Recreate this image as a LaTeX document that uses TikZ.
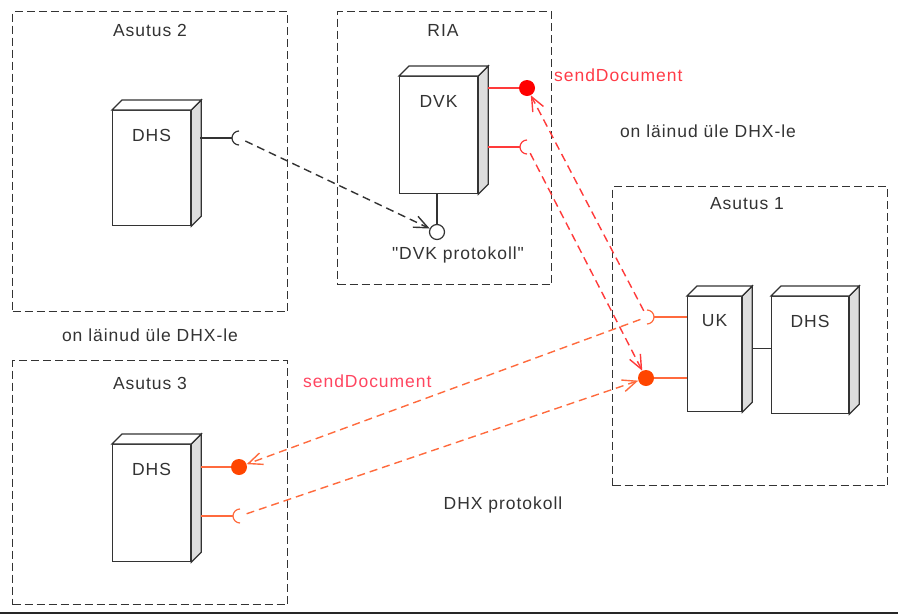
\documentclass[tikz,border=0pt]{standalone}
\usepackage{fontspec}
\setmainfont{Liberation Sans}[LetterSpace=5.5, Ligatures=TeXOff]
\usetikzlibrary{arrows.meta}
\definecolor{ink}{HTML}{333333}
\definecolor{boxline}{HTML}{333333}
\definecolor{sidegray}{HTML}{DDDDDD}
\definecolor{redline}{HTML}{FF3A3A}
\definecolor{redball}{HTML}{FF0000}
\definecolor{redtext}{HTML}{FF3B47}
\definecolor{orline}{HTML}{FF6A3D}
\definecolor{orball}{HTML}{FF4500}
\definecolor{ortext}{HTML}{FF4560}
\newcommand\devicebox[6]{%
  \node[face, minimum width=#4, minimum height=#5, anchor=north west] (#1) at (#2,-#3) {};
  \filldraw[face, fill=sidegray] (#1.north east) -- ++(10,10) -- ([shift={(10,10)}]#1.south east) -- (#1.south east) -- cycle;
  \filldraw[face] (#1.north west) -- ++(10,10) -- ([shift={(10,10)}]#1.north east) -- (#1.north east) -- cycle;
  \node[lbl] (#1-t) at ([yshift=-25pt]#1.north) {#6};
}
\begin{document}
\begin{tikzpicture}[x=1pt,y=1pt,
  lbl/.style={font=\fontsize{17.5}{21}\selectfont, text=ink, inner sep=0pt},
  group/.style={draw=boxline, line width=1.4pt, dash pattern=on 8pt off 4pt, inner sep=0pt},
  face/.style={draw=ink, fill=white, line width=1.2pt, inner sep=0pt},
  wire/.style={draw=ink, line width=1.2pt},
  redwire/.style={draw=redline, line width=1.2pt},
  orwire/.style={draw=orline, line width=1.2pt},
  ball/.style={circle, inner sep=0pt, minimum size=16pt},
  dep/.style={line width=1.4pt, dash pattern=on 8pt off 5pt, -{Straight Barb[length=14pt,width=12pt]}},
]
\useasboundingbox (0,0) rectangle (898,-614);
\fill[black!85] (0,-611.5) rectangle (898,-614);

% groups
\node[group, minimum width=275, minimum height=300, anchor=north west] (a2) at (12,-11) {};
\node[group, minimum width=214, minimum height=273, anchor=north west] (ria) at (337,-11) {};
\node[group, minimum width=275, minimum height=299, anchor=north west] (a1) at (612,-186) {};
\node[group, minimum width=275, minimum height=244, anchor=north west] (a3) at (12,-360) {};

\node[lbl] (a2t) at (150,-30) {Asutus 2};
\node[lbl] (riat) at (443,-30) {RIA};
\node[lbl] (a1t) at (747,-204) {Asutus 1};
\node[lbl] (a3t) at (150,-383) {Asutus 3};
\node[lbl] (note1) at (708,-131) {on läinud üle DHX-le};
\node[lbl] (note2) at (150,-335) {on läinud üle DHX-le};
\node[lbl] (dhx) at (503,-505) {DHX protokoll};
\node[lbl, text=redtext, anchor=west] (sd1) at (554,-75) {sendDocument};
\node[lbl, text=ortext, anchor=west] (sd2) at (303,-381) {sendDocument};

% devices
\devicebox{dhsA}{112}{110}{78}{115}{DHS}
\devicebox{dvk}{399}{76}{78}{117}{DVK}
\devicebox{uk}{687}{296}{54}{115}{UK}
\devicebox{dhsB}{771}{296}{77}{117}{DHS}
\devicebox{dhsC}{112}{444}{78}{117}{DHS}

% Asutus 2 socket
\coordinate (sA) at (239,-138);
\draw[wire] (200,-138) -- ([xshift=-7pt]sA);
\draw[wire] ([yshift=7pt]sA) arc[start angle=90, end angle=270, radius=7pt];

% RIA lollipop
\node[ball, minimum size=15pt, draw=ink, fill=white, line width=1.2pt] (lolli) at (437,-232) {};
\draw[wire] (dvk.south -| lolli) -- (lolli.north);
\node[lbl, anchor=center] (dvkp) at (458,-255) {"DVK protokoll"};

% DVK ports
\node[ball, fill=redball] (dvkball) at (527,-88) {};
\draw[redwire] ([xshift=10pt]dvk.east |- dvkball) -- (dvkball.west);
\coordinate (sDVK) at (527,-147);
\draw[redwire] ([xshift=10pt]dvk.east |- sDVK) -- ([xshift=-7pt]sDVK);
\draw[redwire] ([yshift=7pt]sDVK) arc[start angle=90, end angle=270, radius=7pt];

% UK ports
\coordinate (sUK) at (647,-317);
\draw[orwire] ([xshift=7pt]sUK) -- (uk.west |- sUK);
\draw[orwire] ([yshift=7pt]sUK) arc[start angle=90, end angle=-90, radius=7pt];
\node[ball, fill=orball] (ukball) at (646,-378) {};
\draw[orwire] (ukball.east) -- (uk.west |- ukball);
\draw[wire] ([xshift=10pt,yshift=5.5pt]uk.east) -- ([yshift=5.5pt]uk.east -| dhsB.west);

% Asutus 3 ports
\node[ball, fill=orball] (c3ball) at (239,-467) {};
\draw[orwire] ([xshift=10pt]dhsC.east |- c3ball) -- (c3ball.west);
\coordinate (s3) at (240,-516);
\draw[orwire] ([xshift=10pt]dhsC.east |- s3) -- ([xshift=-7pt]s3);
\draw[orwire] ([yshift=7pt]s3) arc[start angle=90, end angle=270, radius=7pt];

% dependencies
\draw[dep, draw=boxline, shorten <=7pt] (sA) -- (lolli);
\draw[dep, draw=redline, shorten <=7pt] (sUK) -- (dvkball);
\draw[dep, draw=redline, shorten <=7pt] (sDVK) -- (ukball);
\draw[dep, draw=orline, shorten <=7pt] (sUK) -- (c3ball);
\draw[dep, draw=orline, shorten <=7pt] (s3) -- (ukball);
\end{tikzpicture}
\end{document}
